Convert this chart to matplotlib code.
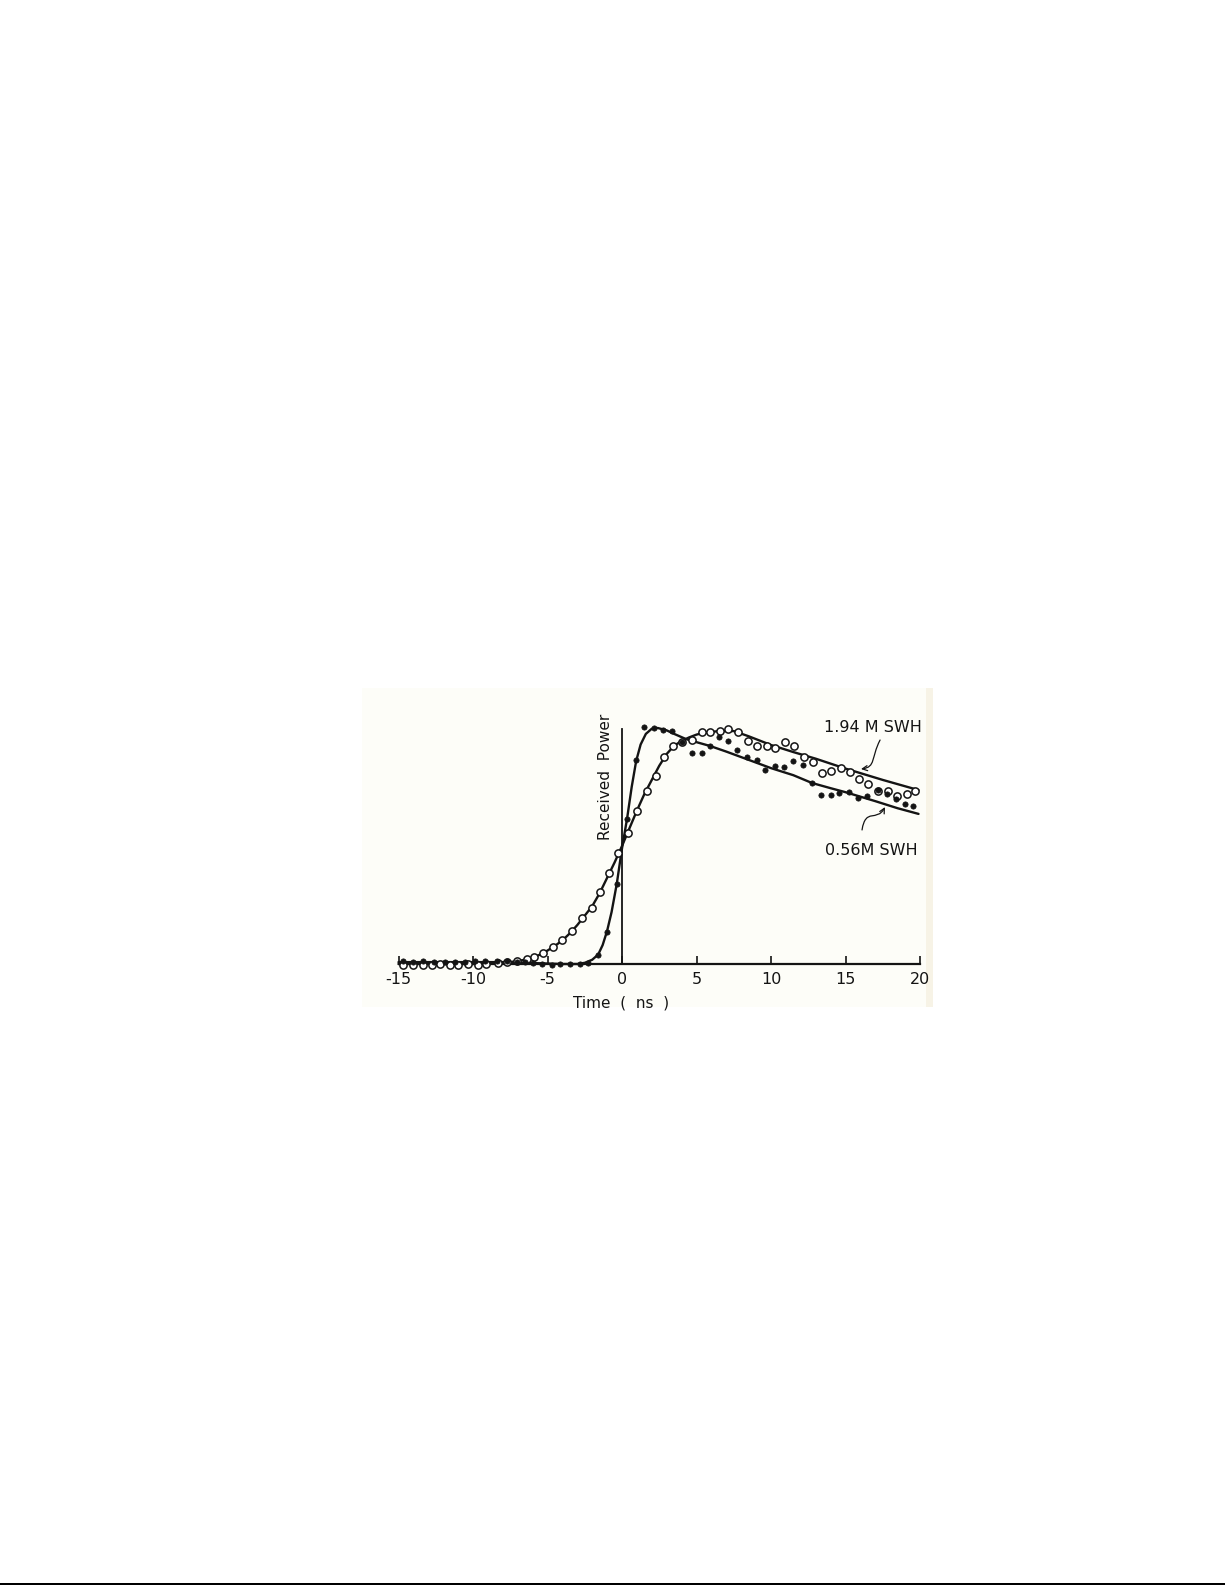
import matplotlib
matplotlib.use("Agg")
import matplotlib.pyplot as plt
from matplotlib.patches import Rectangle, FancyArrowPatch
from matplotlib.path import Path

# ---------------- data ----------------
# 1.94 m SWH: open circles
t_open = [-14.68, -14.0, -13.34, -12.77, -12.21, -11.54, -10.99, -10.32, -9.66,
          -9.1, -8.3, -7.74, -7.07, -6.4, -5.89, -5.28, -4.61, -4.05, -3.38,
          -2.7, -2.03, -1.48, -0.85, -0.25, 0.4, 1.0, 1.68, 2.28, 2.82, 3.42,
          4.03, 4.7, 5.37, 5.91, 6.58, 7.11, 7.79, 8.46, 9.06, 9.73, 10.27,
          10.94, 11.54, 12.21, 12.82, 13.42, 14.03, 14.7, 15.3, 15.91, 16.51,
          17.18, 17.85, 18.46, 19.13, 19.66]
p_open = [-0.004, -0.006, -0.003, -0.006, -0.002, -0.005, -0.004, -0.002, -0.004,
          0.0, 0.004, 0.01, 0.013, 0.02, 0.03, 0.046, 0.073, 0.10, 0.141,
          0.193, 0.236, 0.304, 0.384, 0.469, 0.555, 0.648, 0.733, 0.797, 0.877, 0.924,
          0.941, 0.949, 0.983, 0.983, 0.987, 0.996, 0.983, 0.945, 0.924, 0.924, 0.915,
          0.941, 0.924, 0.877, 0.856, 0.809, 0.818, 0.831, 0.814, 0.784, 0.763,
          0.733, 0.733, 0.712, 0.720, 0.733]

# 0.56 m SWH: filled dots
t_fill = [-14.68, -14.0, -13.34, -12.6, -11.88, -11.21, -10.54, -9.87, -9.19,
          -8.41, -7.74, -7.07, -6.5, -5.97, -5.37, -4.7, -4.16, -3.49, -2.82,
          -2.28, -1.61, -1.0, -0.34, 0.34, 0.94, 1.48, 2.15, 2.75, 3.36, 4.03,
          4.7, 5.37, 5.91, 6.51, 7.11, 7.72, 8.39, 9.06, 9.6, 10.27, 10.87,
          11.48, 12.15, 12.75, 13.36, 14.03, 14.56, 15.23, 15.84, 16.44, 17.18,
          17.79, 18.39, 18.99, 19.53]
p_fill = [0.012, 0.010, 0.012, 0.010, 0.010, 0.008, 0.010, 0.012, 0.012,
          0.014, 0.012, 0.010, 0.008, 0.004, 0.0, -0.004, 0.0, 0.0, 0.0,
          0.004, 0.038, 0.136, 0.339, 0.614, 0.864, 1.004, 1.0, 0.992, 0.987, 0.941,
          0.894, 0.894, 0.924, 0.962, 0.945, 0.907, 0.877, 0.864, 0.822, 0.839, 0.835,
          0.860, 0.843, 0.767, 0.716, 0.716, 0.725, 0.729, 0.703, 0.712, 0.737,
          0.720, 0.699, 0.678, 0.669]

# fitted curves
t_fit_open = [-15, -10, -8.5, -7.5, -6.5, -6, -5.5, -5, -4.5, -4, -3.5, -3, -2.5,
              -2, -1.5, -1, -0.5, 0, 0.5, 1, 1.5, 2, 2.5, 3, 3.5, 4, 4.5, 5, 5.5,
              6.5, 7.5, 8.5, 10, 11.5, 13, 15, 17.5, 19.9]
p_fit_open = [0.0, 0.0, 0.003, 0.008, 0.018, 0.026, 0.04, 0.057, 0.077, 0.10, 0.13,
              0.165, 0.205, 0.245, 0.30, 0.365, 0.43, 0.50, 0.575, 0.65, 0.72, 0.78,
              0.84, 0.89, 0.925, 0.945, 0.96, 0.972, 0.98, 0.987, 0.987, 0.965,
              0.928, 0.898, 0.87, 0.828, 0.78, 0.737]

t_fit_fill = [-15, -8, -6, -4, -3, -2.5, -2.0, -1.6, -1.3, -1.0, -0.7, -0.35, 0,
              0.35, 0.65, 0.95, 1.25, 1.6, 2.0, 2.4, 3.0, 3.5, 4.3, 5.0, 5.9, 7.0,
              8.5, 10, 11.5, 12.75, 14, 15, 17, 18.5, 19.9]
p_fit_fill = [0.008, 0.008, 0.004, 0.0, 0.0, 0.005, 0.018, 0.04, 0.08, 0.14, 0.22,
              0.34, 0.49, 0.62, 0.75, 0.86, 0.93, 0.975, 0.997, 1.0, 0.99, 0.975,
              0.953, 0.94, 0.924, 0.90, 0.865, 0.83, 0.80, 0.767, 0.745, 0.728,
              0.69, 0.66, 0.636]

x_ticks = [-15, -10, -5, 0, 5, 10, 15, 20]
x_tick_labels = ["-15", "-10", "-5", "0", "5", "10", "15", "20"]
label_open = "1.94 M SWH"
label_fill = "0.56M SWH"

# ---------------- figure ----------------
W, H = 1225, 1585
fig = plt.figure(figsize=(W / 100, H / 100), dpi=100)
fig.patch.set_facecolor("white")

# scanned-paper tint behind the chart (drawn below the axes)
fig.patches.append(Rectangle((362 / W, 1 - 1007 / H), (926 - 362) / W, (1007 - 688) / H,
                             transform=fig.transFigure, facecolor="#fdfdf8",
                             edgecolor="none", zorder=-10))
fig.patches.append(Rectangle((926 / W, 1 - 1007 / H), 7 / W, (1007 - 688) / H,
                             transform=fig.transFigure, facecolor="#f7f3e6",
                             edgecolor="none", zorder=-10))
# page bottom rule
fig.patches.append(Rectangle((0, 0), 1, 2.5 / H, transform=fig.transFigure,
                             facecolor="black", edgecolor="none", zorder=-10))

x0_px, x1_px = 398.5, 920.0
y0_px, y1_px = 964.0, 728.0
ax = fig.add_axes([x0_px / W, 1 - y0_px / H, (x1_px - x0_px) / W, (y0_px - y1_px) / H])
ax.set_zorder(5)
ax.set_facecolor("none")
ax.set_xlim(-15, 20)
ax.set_ylim(0, 1)

ink = "#141414"
fit_kw = dict(color=ink, lw=1.7, clip_on=False, zorder=2,
              solid_joinstyle="round", solid_capstyle="round")
ax.plot(t_fit_open, p_fit_open, **fit_kw)
ax.plot(t_fit_fill, p_fit_fill, **fit_kw)
ax.plot(t_open, p_open, linestyle="none", marker="o", ms=5.2, mfc="white",
        mec=ink, mew=1.1, clip_on=False, zorder=3)
ax.plot(t_fill, p_fill, linestyle="none", marker="o", ms=3.8, mfc=ink,
        mec=ink, mew=0.5, clip_on=False, zorder=4)

ax.axvline(0, 0, 0.995, color=ink, lw=1.3, zorder=1)

for s in ["top", "right", "left"]:
    ax.spines[s].set_visible(False)
ax.spines["bottom"].set_color(ink)
ax.spines["bottom"].set_linewidth(1.6)
ax.set_yticks([])
ax.set_xticks(x_ticks)
ax.set_xticklabels(x_tick_labels)
ax.tick_params(axis="x", direction="in", length=5.5, width=1.2, color=ink,
               pad=5.5, labelsize=11.5, labelcolor=ink)
for lab in ax.get_xticklabels():
    lab.set_family("DejaVu Sans")

ax.set_xlabel("Time  (  ns  )", fontsize=11, color=ink, family="DejaVu Sans")
ax.xaxis.label.set_va("center")
ax.xaxis.set_label_coords((621 - x0_px) / (x1_px - x0_px), -(1003 - y0_px) / (y0_px - y1_px))

ax.set_ylabel("Received  Power", fontsize=11, color=ink, family="DejaVu Sans")
ax.yaxis.label.set_va("center")
ax.yaxis.set_label_coords((606 - x0_px) / (x1_px - x0_px), (y0_px - 777) / (y0_px - y1_px))

ax.text(16.85, 1.0, label_open, ha="center", va="center", fontsize=11.5,
        color=ink, family="DejaVu Sans")
ax.text(16.7, 0.483, label_fill, ha="center", va="center", fontsize=11.5,
        color=ink, family="DejaVu Sans")

# wavy leader arrows from the labels to the curves
squiggle_upper = [(17.32, 0.949), (16.70, 0.873), (17.05, 0.835), (16.04, 0.826)]
squiggle_lower = [(16.11, 0.568), (16.35, 0.665), (17.10, 0.600), (17.65, 0.665)]
for verts in (squiggle_upper, squiggle_lower):
    path = Path(verts, [Path.MOVETO, Path.CURVE4, Path.CURVE4, Path.CURVE4])
    arr = FancyArrowPatch(path=path, arrowstyle="->", mutation_scale=9,
                          color=ink, lw=0.9, transform=ax.transData, clip_on=False,
                          zorder=5)
    ax.add_patch(arr)

fig.savefig("out.png", dpi=100, facecolor="white")
